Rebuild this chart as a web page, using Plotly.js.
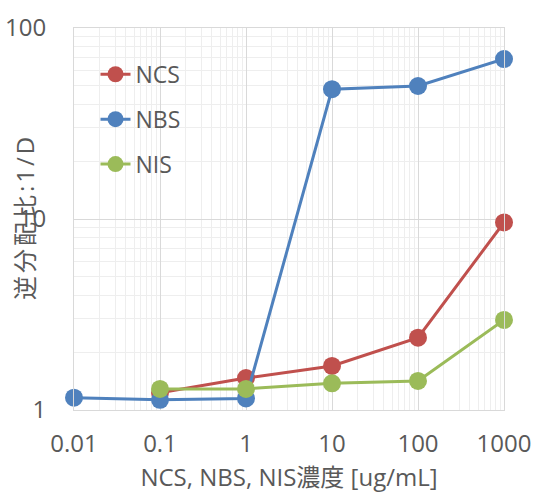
<!DOCTYPE html>
<html><head><meta charset="utf-8">
<script src="https://cdn.plot.ly/plotly-3.0.1.min.js"></script>
<style>html,body{margin:0;padding:0;background:#fff;}#chart{width:534px;height:493px;}
.annotation-text{letter-spacing:3px;}</style>
</head><body><div id="chart"></div>
<script>
const ncsX = [0.1, 1, 10, 100, 1000];
const ncsY = [1.23, 1.47, 1.70, 2.39, 9.6];
const nbsX = [0.01, 0.1, 1, 10, 100, 1000];
const nbsY = [1.16, 1.13, 1.15, 47.8, 49.7, 68.8];
const nisX = [0.1, 1, 10, 100, 1000];
const nisY = [1.29, 1.29, 1.38, 1.42, 2.96];
const xTickVals = [0.01, 0.1, 1, 10, 100, 1000];
const xTickText = ['0.01', '0.1', '1', '10', '100', '1000'];
const yTickVals = [1, 10, 100];
const yTickText = ['1', '10', '100'];
const seriesNames = ['NCS', 'NBS', 'NIS'];
const colors = ['#C0504D', '#4F81BD', '#9BBB59'];
const xTitle = 'NCS, NBS, NIS濃度 [ug/mL]';
const yTitle = '逆分配比:1/D';

const FONT = '"Open Sans", "Noto Sans CJK JP", sans-serif';
const xs = [ncsX, nbsX, nisX], ys = [ncsY, nbsY, nisY];
const traces = seriesNames.map((n, i) => ({
  type: 'scatter', mode: 'lines+markers', name: n,
  x: xs[i], y: ys[i], legendgroup: 'g' + i,
  line: {color: colors[i], width: 3},
  marker: {color: colors[i], size: 18},
  cliponaxis: false
}));
const layout = {
  width: 534, height: 493,
  margin: {l: 73.5, r: 30, t: 27.5, b: 83},
  paper_bgcolor: '#fff', plot_bgcolor: '#fff',
  font: {family: FONT, color: '#595959', size: 24},
  showlegend: true,
  legend: {x: 0.05, y: 0.935, xanchor: 'left', yanchor: 'top', bgcolor: 'rgba(0,0,0,0)',
    font: {size: 23, color: '#595959'}, traceorder: 'grouped', tracegroupgap: 12, itemwidth: 30},
  xaxis: {type: 'log', range: [-2, 3], tickvals: xTickVals, ticktext: xTickText,
    showgrid: true, gridcolor: '#d9d9d9', gridwidth: 1, zeroline: false,
    showline: true, linecolor: '#d9d9d9', mirror: true, ticks: '',
    ticklabelstandoff: 12,
    minor: {dtick: 'D1', showgrid: true, gridcolor: '#eeeeee', gridwidth: 1},
    tickfont: {size: 24, color: '#595959'},
    title: {text: xTitle, font: {size: 24, color: '#595959'}, standoff: 13}},
  yaxis: {type: 'log', range: [0, 2], tickvals: yTickVals, ticktext: yTickText,
    showgrid: true, gridcolor: '#d9d9d9', gridwidth: 1, zeroline: false,
    showline: true, linecolor: '#d9d9d9', mirror: true, ticks: '',
    ticklabelstandoff: 22,
    minor: {dtick: 'D1', showgrid: true, gridcolor: '#eeeeee', gridwidth: 1},
    tickfont: {size: 24, color: '#595959'}},
  annotations: [{text: yTitle, xref: 'paper', yref: 'paper', x: 0, y: 0.5,
    xanchor: 'center', yanchor: 'middle', xshift: -50, yshift: 2, textangle: -90, showarrow: false,
    font: {size: 24, color: '#595959', family: FONT}}]
};
Plotly.newPlot('chart', traces, layout, {displayModeBar: false, staticPlot: true});
</script></body></html>
